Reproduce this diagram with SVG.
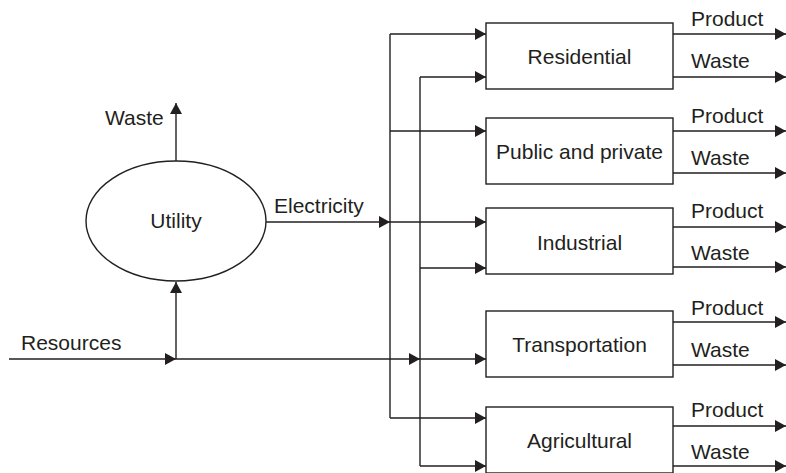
<svg xmlns="http://www.w3.org/2000/svg" width="786" height="473" viewBox="0 0 786 473">
<style>
.ln{fill:none;stroke:#231f20;stroke-width:1.4}
.bx{fill:#fff;stroke:#231f20;stroke-width:1.4}
text{font-family:"Liberation Sans",Arial,sans-serif;font-size:21px;fill:#231f20}
.c{text-anchor:middle}
</style>
<defs>
<marker id="ah" markerUnits="userSpaceOnUse" markerWidth="11" markerHeight="12" refX="11" refY="6" orient="auto" viewBox="0 0 11 12">
<path d="M0,0 L11,6 L0,12 z" fill="#231f20"/>
</marker>
</defs>
<rect width="786" height="473" fill="#fff"/>
<g id="connectors">
<path class="ln" d="M176,161 V103" marker-end="url(#ah)"/>
<path class="ln" d="M9,359 H176" marker-end="url(#ah)"/>
<path class="ln" d="M176,359 V282" marker-end="url(#ah)"/>
<path class="ln" d="M176,359 H420" marker-end="url(#ah)"/>
<path class="ln" d="M420,359 H486" marker-end="url(#ah)"/>
<path class="ln" d="M266,222 H390" marker-end="url(#ah)"/>
<path class="ln" d="M390,222 H486" marker-end="url(#ah)"/>
<path class="ln" d="M390,34 V418"/>
<path class="ln" d="M420,77 V466"/>
<path class="ln" d="M390,34 H486" marker-end="url(#ah)"/>
<path class="ln" d="M420,77 H486" marker-end="url(#ah)"/>
<path class="ln" d="M390,131 H486" marker-end="url(#ah)"/>
<path class="ln" d="M420,268 H486" marker-end="url(#ah)"/>
<path class="ln" d="M390,418 H486" marker-end="url(#ah)"/>
<path class="ln" d="M420,466 H486" marker-end="url(#ah)"/>
<path class="ln" d="M673,34 H786" marker-end="url(#ah)"/>
<path class="ln" d="M673,77 H786" marker-end="url(#ah)"/>
<path class="ln" d="M673,131 H786" marker-end="url(#ah)"/>
<path class="ln" d="M673,173 H786" marker-end="url(#ah)"/>
<path class="ln" d="M673,227 H786" marker-end="url(#ah)"/>
<path class="ln" d="M673,267 H786" marker-end="url(#ah)"/>
<path class="ln" d="M673,322 H786" marker-end="url(#ah)"/>
<path class="ln" d="M673,365 H786" marker-end="url(#ah)"/>
<path class="ln" d="M673,426 H786" marker-end="url(#ah)"/>
<path class="ln" d="M673,466 H786" marker-end="url(#ah)"/>
<text x="105" y="125">Waste</text>
<text x="274" y="213">Electricity</text>
<text x="21" y="350">Resources</text>
<text x="691" y="26">Product</text>
<text x="691" y="68">Waste</text>
<text x="691" y="123">Product</text>
<text x="691" y="165">Waste</text>
<text x="691" y="218">Product</text>
<text x="691" y="260">Waste</text>
<text x="691" y="315">Product</text>
<text x="691" y="357">Waste</text>
<text x="691" y="417">Product</text>
<text x="691" y="459">Waste</text>
</g>
<g id="utility">
<ellipse class="bx" cx="176" cy="221" rx="90" ry="60"/>
<text class="c" x="176" y="228">Utility</text>
</g>
<g id="residential">
<rect class="bx" x="486" y="23" width="187" height="66"/>
<text class="c" x="579.5" y="64">Residential</text>
</g>
<g id="public">
<rect class="bx" x="486" y="118" width="187" height="66"/>
<text class="c" x="579.5" y="159">Public and private</text>
</g>
<g id="industrial">
<rect class="bx" x="486" y="208" width="187" height="66"/>
<text class="c" x="579.5" y="250">Industrial</text>
</g>
<g id="transportation">
<rect class="bx" x="486" y="311" width="187" height="66"/>
<text class="c" x="579.5" y="352">Transportation</text>
</g>
<g id="agricultural">
<rect class="bx" x="486" y="407" width="187" height="66"/>
<text class="c" x="579.5" y="448">Agricultural</text>
</g>
</svg>
